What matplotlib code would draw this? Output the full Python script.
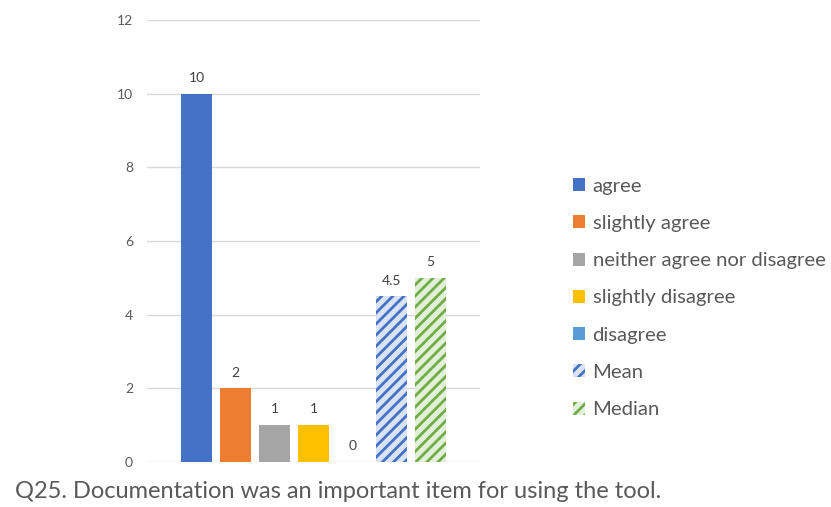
import matplotlib
matplotlib.use("Agg")
import matplotlib.pyplot as plt
from matplotlib.patches import Patch

# data
labels = ["agree", "slightly agree", "neither agree nor disagree",
          "slightly disagree", "disagree", "Mean", "Median"]
values = [10, 2, 1, 1, 0, 4.5, 5]
value_text = ["10", "2", "1", "1", "0", "4.5", "5"]
y_ticks = [0, 2, 4, 6, 8, 10, 12]
caption = "Q25. Documentation was an important item for using the tool."

face = ["#4472c4", "#ed7d31", "#a5a5a5", "#ffc000", "#5b9bd5", "#dae3f3", "#e2f0d9"]
edge = [None, None, None, None, None, "#4472c4", "#70ad47"]
hatch = [None, None, None, None, None, "///", "///"]

plt.rcParams["font.family"] = ["Lato", "DejaVu Sans"]
plt.rcParams["hatch.linewidth"] = 2.0

W, H = 831, 507
fig = plt.figure(figsize=(W / 100, H / 100), dpi=100)
ax = fig.add_axes([147 / W, (H - 462) / H, (480 - 147) / W, (462 - 20) / H])

width = 31 / 39
for i, (v, fc, ec, ht) in enumerate(zip(values, face, edge, hatch)):
    if ht:
        b = ax.bar(i, v, width=width, color=fc, edgecolor=ec, hatch=ht, linewidth=0)
    else:
        b = ax.bar(i, v, width=width, color=fc, linewidth=0)
    ax.bar_label(b, labels=[value_text[i]], padding=7, fontsize=10, color="#404040")

ax.set_xlim(-width / 2 - 34 / 39, len(values) - 1 + width / 2 + 34 / 39)
ax.set_ylim(0, 12)
ax.set_yticks(y_ticks)
ax.set_xticks([])
ax.tick_params(axis="y", length=0, pad=10, labelsize=10, labelcolor="#595959")
ax.grid(axis="y", color="#d9d9d9", linewidth=1)
ax.set_axisbelow(True)
for s in ax.spines.values():
    s.set_visible(False)

handles = []
for fc, ec, ht in zip(face, edge, hatch):
    if ht:
        handles.append(Patch(facecolor=fc, edgecolor=ec, hatch=ht, linewidth=0))
    else:
        handles.append(Patch(facecolor=fc, linewidth=0))
fig.legend(handles, labels, loc="center left", bbox_to_anchor=(555 / W, 1 - 298 / H),
           frameon=False, fontsize=14.6, labelcolor="#595959",
           handlelength=0.6, handleheight=0.6, handletextpad=0.35, labelspacing=1.0)

fig.text(15 / W, 1 - 491 / H, caption, fontsize=17, color="#595959", va="center", ha="left")

fig.savefig("out.png", dpi=100)
